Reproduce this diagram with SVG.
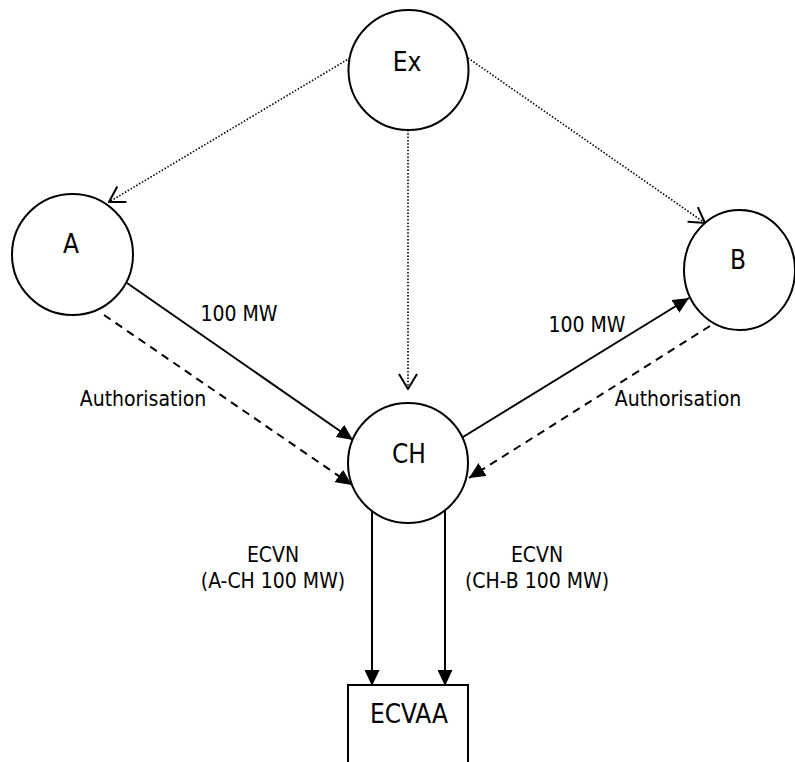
<svg xmlns="http://www.w3.org/2000/svg" width="795" height="762" viewBox="0 0 795 762">
  <style>
    .node { fill: #fff; stroke: #000; stroke-width: 2; }
    .label { font-family: "DejaVu Sans Condensed", "DejaVu Sans", sans-serif; font-stretch: condensed; fill: #000; text-anchor: middle; }
    .big { font-size: 26px; }
    .small { font-size: 21px; }
    .solid { stroke: #000; stroke-width: 2; fill: none; marker-end: url(#filled); }
    .dashed { stroke: #000; stroke-width: 2; fill: none; stroke-dasharray: 8 6; marker-end: url(#filled); }
    .dotted { stroke: #000; stroke-width: 1.6; fill: none; stroke-dasharray: 1.5 1.8; marker-end: url(#open); }
  </style>
  <defs>
    <marker id="filled" viewBox="0 0 16 15" refX="16" refY="7.5" markerWidth="16" markerHeight="15" markerUnits="userSpaceOnUse" orient="auto">
      <path d="M0,0 L16,7.5 L0,15 Z" fill="#000"/>
    </marker>
    <marker id="open" viewBox="0 0 18 22" refX="17" refY="11" markerWidth="18" markerHeight="22" markerUnits="userSpaceOnUse" orient="auto">
      <path d="M2,2 L17,11 L2,20" fill="none" stroke="#000" stroke-width="2"/>
    </marker>
  </defs>
  <rect width="795" height="762" fill="#fff"/>

  <g id="connectors">
    <!-- dotted links from Ex -->
    <line class="dotted" x1="350" y1="58" x2="109" y2="202"/>
    <line class="dotted" x1="468" y1="58" x2="705" y2="223"/>
    <line class="dotted" x1="408" y1="130" x2="408" y2="389"/>
    <!-- flows -->
    <line class="solid" x1="127" y1="283" x2="353" y2="440"/>
    <line class="dashed" x1="104" y1="315" x2="352" y2="485"/>
    <line class="solid" x1="463" y1="437" x2="689" y2="298"/>
    <line class="dashed" x1="710" y1="326" x2="469" y2="478"/>
    <line class="solid" x1="372" y1="511" x2="372" y2="686"/>
    <line class="solid" x1="445" y1="510" x2="445" y2="686"/>
    <!-- labels -->
    <text class="label small" x="239" y="321">100 MW</text>
    <text class="label small" x="143" y="406">Authorisation</text>
    <text class="label small" x="587" y="332">100 MW</text>
    <text class="label small" x="678" y="406">Authorisation</text>
    <text class="label small" x="273" y="562">ECVN</text>
    <text class="label small" x="273" y="588">(A-CH 100 MW)</text>
    <text class="label small" x="537" y="562">ECVN</text>
    <text class="label small" x="537" y="588">(CH-B 100 MW)</text>
  </g>

  <g id="node-ex">
    <circle class="node" cx="408.5" cy="70" r="60"/>
    <text class="label big" x="407" y="71">Ex</text>
  </g>
  <g id="node-a">
    <circle class="node" cx="72.5" cy="254.5" r="60.5"/>
    <text class="label big" x="71" y="253">A</text>
  </g>
  <g id="node-b">
    <ellipse class="node" cx="739.5" cy="270" rx="55.5" ry="60"/>
    <text class="label big" x="738" y="269">B</text>
  </g>
  <g id="node-ch">
    <circle class="node" cx="408" cy="463" r="60"/>
    <text class="label big" x="409" y="463">CH</text>
  </g>
  <g id="node-ecvaa">
    <rect class="node" x="348" y="685" width="120" height="90"/>
    <text class="label big" x="409" y="723">ECVAA</text>
  </g>
</svg>
